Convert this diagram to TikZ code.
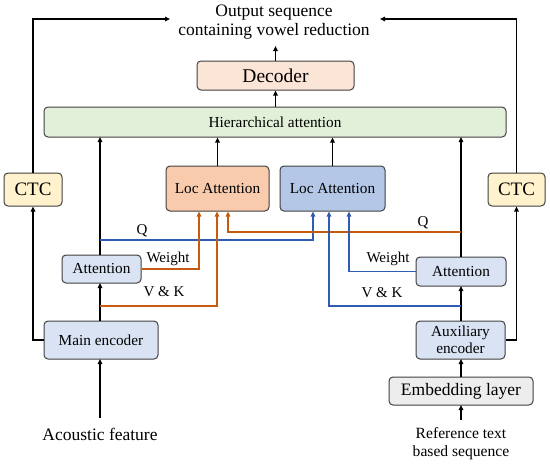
\documentclass[tikz,border=0pt]{standalone}
\usepackage{fontspec}
\setmainfont{Liberation Serif}
\usetikzlibrary{arrows.meta}
\definecolor{boxline}{HTML}{404040}
\definecolor{decfill}{HTML}{FBE5D6}
\definecolor{hierfill}{HTML}{E2F0D9}
\definecolor{locLfill}{HTML}{F8CBAD}
\definecolor{locRfill}{HTML}{B4C7E7}
\definecolor{ctcfill}{HTML}{FFF2CC}
\definecolor{encfill}{HTML}{DAE3F3}
\definecolor{embfill}{HTML}{EDEDED}
\definecolor{orangeline}{HTML}{C55A11}
\definecolor{blueline}{HTML}{2F5BB0}
\tikzset{
  blk/.style={draw=boxline, line width=1pt, rounded corners=4pt, align=center, inner sep=0pt},
  arr/.style={line width=1.4pt, -{Triangle[length=5pt,width=4.5pt]}},
  oarr/.style={line width=1.4pt, draw=orangeline, -{Triangle[length=5pt,width=4.5pt]}, color=orangeline},
  barr/.style={line width=1.4pt, draw=blueline, -{Triangle[length=5pt,width=4.5pt]}, color=blueline},
  lbl/.style={inner sep=0pt, font=\fontsize{15}{17}\selectfont},
  mid/.style={font=\fontsize{15.3}{17}\selectfont}
}
\begin{document}
\begin{tikzpicture}[x=1pt,y=-1pt]
\useasboundingbox (0,0) rectangle (550,466);
% boxes
\node[blk, fill=decfill, minimum width=157, minimum height=29, font=\fontsize{19.5}{21}\selectfont] (dec) at (275.5,75.5) {Decoder};
\node[blk, fill=hierfill, minimum width=462, minimum height=30, font=\fontsize{15.3}{17}\selectfont] (hier) at (275,122) {Hierarchical attention};
\node[blk, fill=locLfill, minimum width=103, minimum height=45, mid] (locL) at (217.5,188.5) {Loc Attention};
\node[blk, fill=locRfill, minimum width=105, minimum height=45, mid] (locR) at (332.5,188.5) {Loc Attention};
\node[blk, fill=ctcfill, minimum width=58, minimum height=33, font=\fontsize{19}{21}\selectfont] (ctcL) at (33,189.5) {CTC};
\node[blk, fill=ctcfill, minimum width=57, minimum height=33, font=\fontsize{19}{21}\selectfont] (ctcR) at (516.5,189.5) {CTC};
\node[blk, fill=encfill, minimum width=79, minimum height=28, mid] (attL) at (101.5,269) {Attention};
\node[blk, fill=encfill, minimum width=90, minimum height=29, mid] (attR) at (461,271.5) {Attention};
\node[blk, fill=encfill, minimum width=114, minimum height=38, mid] (menc) at (101,340) {Main encoder};
\node[blk, fill=encfill, minimum width=89, minimum height=38, font=\fontsize{15.3}{17.5}\selectfont] (aenc) at (460.5,340) {Auxiliary\\encoder};
\node[blk, fill=embfill, minimum width=144, minimum height=28, font=\fontsize{17.5}{19}\selectfont] (emb) at (461,391) {Embedding layer};
% texts
\node[align=center, inner sep=0pt, font=\fontsize{17.5}{19}\selectfont] (out) at (274,22) {Output sequence\\containing vowel reduction};
\node[inner sep=0pt, font=\fontsize{17.5}{19}\selectfont] (acou) at (100,434) {Acoustic feature};
\node[align=center, inner sep=0pt, font=\fontsize{15.6}{18}\selectfont] (reftxt) at (461,444) {Reference text\\based sequence};
% coordinates
\coordinate (outDec) at (275.5,46);
\coordinate (outL) at (170,19);
\coordinate (outR) at (380,19);
\coordinate (acouTop) at (100,418);
\coordinate (refTop) at (461,420);
\coordinate (lAtt) at (100,255);
\coordinate (lHier) at (100,137);
\coordinate (lEnc) at (100,321);
\coordinate (lAttB) at (100,283);
\coordinate (lEncB) at (100,359);
\coordinate (rAtt) at (461,257);
\coordinate (rHier) at (461,137);
\coordinate (rEnc) at (461,321);
\coordinate (rAttB) at (461,286);
\coordinate (rEncB) at (461,359);
\coordinate (rEmb) at (461,377);
\coordinate (rEmbB) at (461,405);
% main black arrows
\draw[arr] (dec.north) -- (outDec);
\draw[arr] (hier.north -| dec.north) -- (dec.south);
\draw[arr] (locL.north) -- (locL.north |- hier.south);
\draw[arr] (locR.north) -- (locR.north |- hier.south);
\draw[arr] (lAtt) -- (lHier);
\draw[arr] (rAtt) -- (rHier);
\draw[arr] (lEnc) -- (lAttB);
\draw[arr] (rEnc) -- (rAttB);
\draw[arr] (rEmb) -- (rEncB);
\draw[arr] (acouTop) -- (lEncB);
\draw[arr] (refTop) -- (rEmbB);
\draw[arr] (menc.west) -| (ctcL.south);
\draw[arr] (aenc.east) -| (ctcR.south);
\draw[arr] (ctcL.north) |- (outL);
\draw[arr] (ctcR.north) |- (outR);
% coloured connectors
\coordinate (qL) at (100,240);
\coordinate (qR) at (461,232);
\coordinate (vkL) at (100,306);
\coordinate (vkR) at (461,306);
\draw[barr] (qL) -| ([xshift=-19.5pt]locR.south);
\draw[oarr] (qR) -| ([xshift=10.5pt]locL.south);
\draw[oarr] (attL.east) -| ([xshift=-18.5pt]locL.south);
\draw[oarr] (vkL) -| ([xshift=-0.5pt]locL.south);
\draw[barr] (attR.west) -| ([xshift=16.5pt]locR.south);
\draw[barr] (vkR) -| ([xshift=-3.5pt]locR.south);
% labels
\node[lbl] (qLl) at (142,231) {Q};
\node[lbl] (qRl) at (423,223) {Q};
\node[lbl] (wL) at (168,259) {Weight};
\node[lbl] (wR) at (388,259) {Weight};
\node[lbl] (vkLl) at (164,292) {V \& K};
\node[lbl] (vkRl) at (382,293) {V \& K};
\end{tikzpicture}
\end{document}
